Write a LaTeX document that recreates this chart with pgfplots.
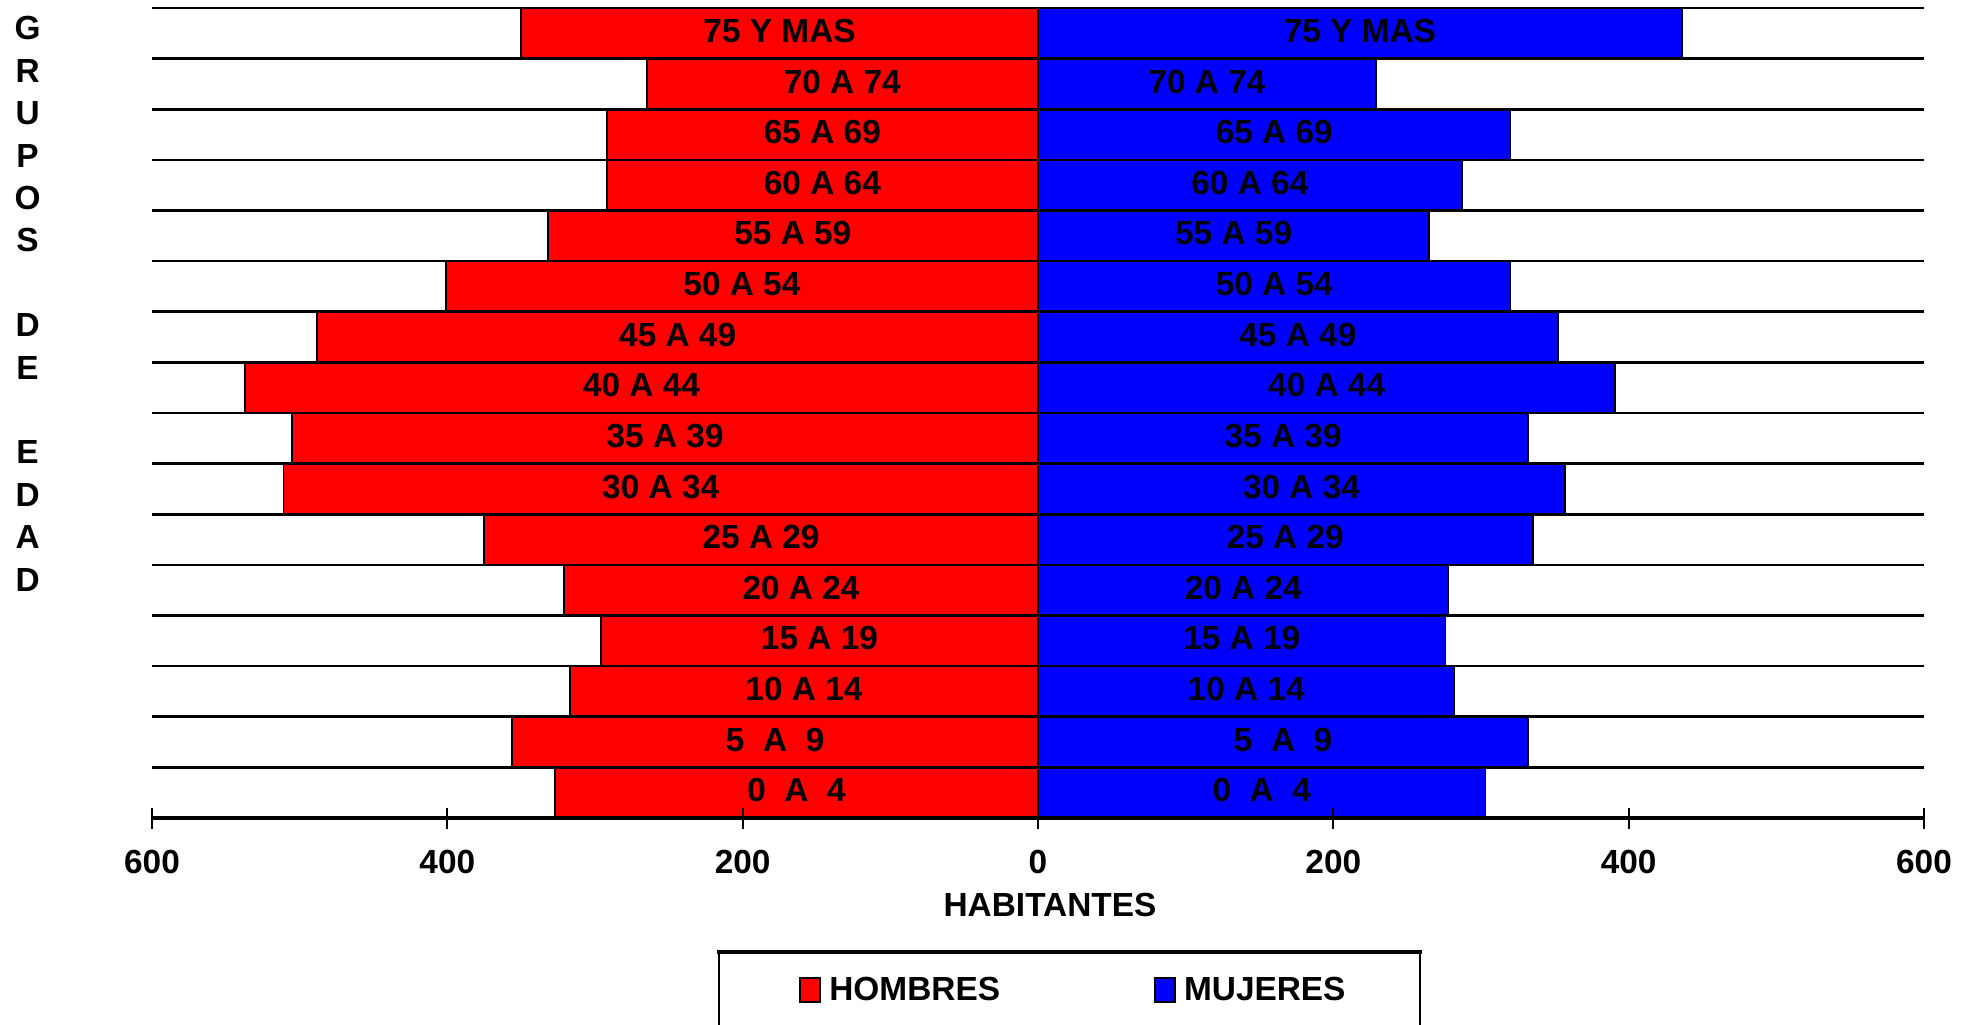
\documentclass[border=0pt]{standalone}
\usepackage{pgfplots}
\pgfplotsset{compat=1.18}
\usepackage{pgfplotstable}
\usepackage{fontspec}
\setmainfont{Liberation Sans}

\pgfplotstableread[col sep=comma]{
Y,H,M,L
0,327,303,0~~A~~4
1,356,332,5~~A~~9
2,317,282,10 A 14
3,296,276,15 A 19
4,321,278,20 A 24
5,375,335,25 A 29
6,511,357,30 A 34
7,505,332,35 A 39
8,537,391,40 A 44
9,488,352,45 A 49
10,401,320,50 A 54
11,332,265,55 A 59
12,292,287,60 A 64
13,292,320,65 A 69
14,265,229,70 A 74
15,350,436,75 Y MAS
}\datatable

\newcommand{\bigfont}{\fontsize{16.7}{20}\selectfont\bfseries}

\begin{document}
\begin{tikzpicture}
\begin{axis}[
  width=886pt, height=405pt, scale only axis,
  xmin=-600, xmax=600, ymin=-0.5, ymax=15.5,
  enlargelimits=false,
  axis x line*=bottom, axis y line*=left,
  y axis line style={draw=none},
  x axis line style={line width=2pt},
  xtick={-600,-400,...,600},
  xticklabels={600,400,200,0,200,400,600},
  xticklabel style={font=\bigfont, inner sep=0pt, anchor=north, yshift=-10.5pt},
  ytick={0.5,1.5,...,15.5},
  yticklabels={},
  ytick style={draw=none},
  xtick style={line width=1pt, black},
  tick align=center,
  major tick length=10.5pt,
  ymajorgrids,
  major y grid style={line width=1.3pt, black},
  axis on top,
  xlabel={HABITANTES},
  x label style={at={(axis description cs:0.5,0)}, anchor=center, font=\bigfont, inner sep=0pt, yshift=-43.5pt, xshift=6pt},
  legend columns=2,
  legend style={draw=none, fill=none, at={(0.3651,0)}, anchor=west, yshift=-86pt,
    inner sep=0pt, nodes={inner sep=0pt, font=\bigfont},
    /tikz/every odd column/.append style={column sep=4pt},
    /tikz/every even column/.append style={column sep=77pt}},
  legend image code/.code={\draw[#1, draw=black, line width=1pt] (0pt,-6pt) rectangle (10pt,6pt);},
]
\addplot[xbar, bar width=1, bar shift=0pt, fill=red, draw=black, line width=0.9pt]
  table[x expr=-\thisrow{H}, y=Y]{\datatable};
\addlegendentry{HOMBRES}
\addplot[xbar, bar width=1, bar shift=0pt, fill=blue, draw=black, line width=0.9pt]
  table[x=M, y=Y]{\datatable};
\addlegendentry{MUJERES}
\addplot[draw=none, mark=none, forget plot, nodes near coords, point meta=explicit symbolic,
  nodes near coords style={anchor=center, font=\bigfont, inner sep=0pt, yshift=1.2pt}]
  table[x expr=-\thisrow{H}/2, y=Y, meta=L]{\datatable};
\addplot[draw=none, mark=none, forget plot, nodes near coords, point meta=explicit symbolic,
  nodes near coords style={anchor=center, font=\bigfont, inner sep=0pt, yshift=1.2pt}]
  table[x expr=\thisrow{M}/2, y=Y, meta=L]{\datatable};
\end{axis}
\node[font=\fontsize{16.7}{21.2}\selectfont\bfseries, align=center, inner sep=0pt, anchor=center]
  at (-62.2pt,257.1pt) {G\\R\\U\\P\\O\\S\\\mbox{}\\D\\E\\\mbox{}\\E\\D\\A\\D};
\draw[line width=1pt] (283.5pt,-120pt) -- (283.5pt,-67pt);
\draw[line width=1pt] (634pt,-120pt) -- (634pt,-67pt);
\draw[line width=1.6pt] (282.7pt,-67pt) -- (634.8pt,-67pt);
\pgfresetboundingbox
\useasboundingbox (-76pt,-103pt) rectangle (909pt,409pt);
\end{tikzpicture}
\end{document}
